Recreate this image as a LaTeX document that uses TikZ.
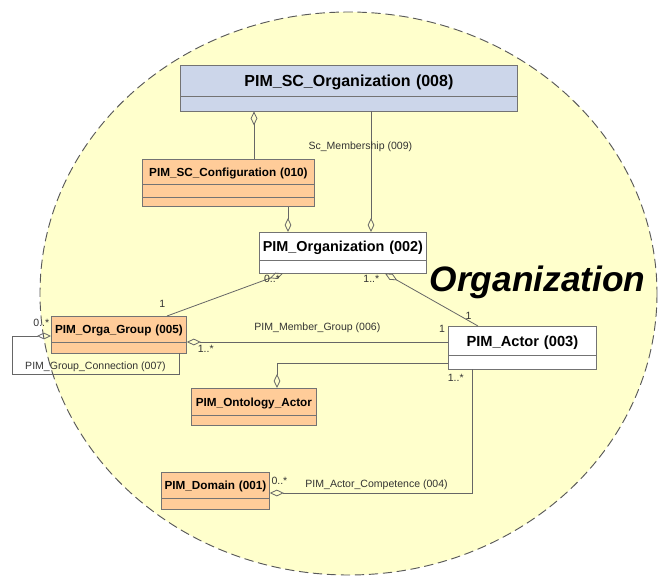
\documentclass[tikz,border=0pt]{standalone}
\usepackage{fontspec}
\setmainfont{Liberation Sans}
\usetikzlibrary{shapes.multipart,arrows.meta,calc,positioning}
\definecolor{bgyel}{HTML}{FFFFCC}
\definecolor{clsor}{HTML}{FFCC99}
\definecolor{clsbl}{HTML}{CCD6EA}
\definecolor{lncol}{HTML}{666666}
\newcommand{\hdr}[2]{\rule[\dimexpr-#1pt/2+0.36em\relax]{0pt}{#1pt}#2}
\newcommand{\cmp}[1]{\rule{0pt}{#1pt}}
\begin{document}
\begin{tikzpicture}[x=0.75pt,y=-0.75pt]
%\draw[help lines,step=20] (0,0) grid (662,579);
\tikzstyle{cls}=[rectangle split,rectangle split parts=2,draw=black!55,line width=0.6pt,inner sep=0pt,align=center,anchor=north west,font=\bfseries\fontsize{8.8}{10}\selectfont,fill=clsor]
\tikzstyle{agg}=[draw=lncol,line width=0.6pt,-{Diamond[open,length=10.5pt,width=5pt]}]
\tikzstyle{lbl}=[font=\fontsize{7.9}{9}\selectfont,text=black!80,inner sep=1pt]

\useasboundingbox (0,0) rectangle (662,579);
\draw[dash pattern=on 7pt off 3.5pt,draw=black!65,line width=0.7pt,fill=bgyel] (348.5,293.5) ellipse [x radius=308.5,y radius=281.5];

\node[cls,fill=clsbl,text width=252.75pt,font=\bfseries\fontsize{12}{14}\selectfont] (sco) at (180,65) {\hdr{22.5}{PIM\_SC\_Organization (008)}\nodepart{two}\cmp{10.5}};

\node[cls,rectangle split parts=3,text width=129pt] (cfg) at (142,159) {\hdr{18}{PIM\_SC\_Configuration (010)}\nodepart{two}\cmp{9}\nodepart{three}\cmp{6.75}};

\node[cls,fill=white,text width=125.25pt,font=\bfseries\fontsize{10.8}{12}\selectfont] (org) at (259,232) {\hdr{20.25}{PIM\_Organization (002)}\nodepart{two}\cmp{9}};

\node[cls,text width=101.25pt] (grp) at (51,316) {\hdr{18.75}{PIM\_Orga\_Group (005)}\nodepart{two}\cmp{7.5}};

\node[cls,fill=white,text width=111pt,font=\bfseries\fontsize{11}{13}\selectfont] (act) at (448,326) {\hdr{21}{PIM\_Actor (003)}\nodepart{two}\cmp{9.75}};

\node[cls,text width=93.75pt] (ont) at (191,388) {\hdr{19.5}{PIM\_Ontology\_Actor}\nodepart{two}\cmp{6.75}};

\node[cls,text width=81pt] (dom) at (161,472) {\hdr{18.75}{PIM\_Domain (001)}\nodepart{two}\cmp{7.5}};

\node[font=\bfseries\itshape\fontsize{26.5}{30}\selectfont,anchor=base] (ttl) at (537.5,291) {Organization};

\path ($(cfg.north west)+(112,0)$) edge[agg] ($(sco.south west)+(74,0)$);
\path ($(sco.south west)+(191,0)$) edge[agg] node[lbl,pos=0.29,xshift=-8pt] {Sc\_Membership (009)} ($(org.north west)+(112,0)$);
\path ($(cfg.south west)+(146,0)$) edge[agg] ($(org.north west)+(29,0)$);
\path ($(grp.north west)+(116,0)$) edge[agg] node[lbl,at start,above left=5pt and 0pt] {1} node[lbl,at end,below left=0pt and 1pt] {0..*} ($(org.south west)+(24,0)$);
\path ($(act.north west)+(30,0)$) edge[agg] node[lbl,at start,above left=5pt] {1} node[lbl,at end,below left=0pt and 3pt] {1..*} ($(org.south west)+(126,0)$);
\path ($(act.north west)+(0,16)$) edge[agg] node[lbl,at start,above left=6pt and 1pt] {1} node[lbl,midway,above=6pt] {PIM\_Member\_Group (006)} node[lbl,at end,below right=1pt and 7pt] {1..*} ($(grp.north east)+(0,26)$);
\draw[agg] ($(grp.south west)+(128,0)$) -- ++(0,21) -- ++(-167,0) node[lbl,midway,above=1pt] {PIM\_Group\_Connection (007)} |- ($(grp.north west)+(0,20)$) node[lbl,above left=6pt and 0pt] {0..*};
\draw[agg] ($(act.north west)+(0,37)$) -| ($(ont.north west)+(86,0)$);
\draw[agg] ($(act.south west)+(24,0)$) node[lbl,below left=2pt and 5pt] {1..*} |- node[lbl,pos=0.736,above=1pt] {PIM\_Actor\_Competence (004)} ($(dom.north east)+(0,21)$) node[lbl,above right=5pt and 0pt] {0..*};
\end{tikzpicture}
\end{document}
